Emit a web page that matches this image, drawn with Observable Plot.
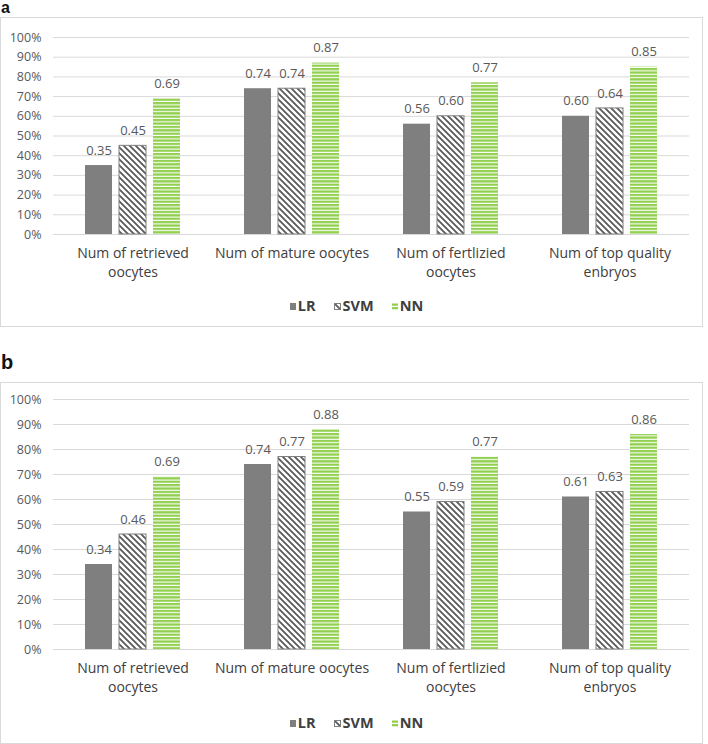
<!DOCTYPE html>
<html>
<head>
<meta charset="utf-8">
<script src="https://cdn.jsdelivr.net/npm/d3@7"></script>
<script src="https://cdn.jsdelivr.net/npm/@observablehq/plot@0.6"></script>
<style>
  html, body { margin: 0; padding: 0; background: #fff; width: 708px; height: 744px; overflow: hidden; }
  body { position: relative; font-family: "Open Sans", sans-serif; }
  .plabel { position: absolute; left: 1px; font-family: "Liberation Sans", Arial, sans-serif; font-weight: bold; color: #111; line-height: 1; }
  .box { position: absolute; left: 0; width: 703px; border: 1.5px solid #d9d9d9; box-sizing: border-box; }
  .chart { position: absolute; left: 0; }
  .legend { position: absolute; left: 4px; width: 705px; display: flex; justify-content: center; gap: 18px;
            font-family: "Open Sans", sans-serif; font-weight: bold; font-size: 14.5px; color: #404040; line-height: 16px; }
  .legend .item { display: flex; align-items: center; gap: 2px; }
  .legend svg { display: block; }
</style>
</head>
<body>
<svg width="0" height="0" style="position:absolute">
  <defs>
    <pattern id="hatch" patternUnits="userSpaceOnUse" width="6" height="6">
      <rect width="6" height="6" fill="#ffffff"/>
      <path d="M-1,-1L7,7M-1,5L1,7M5,-1L7,1" stroke="#595959" stroke-width="1.8"/>
    </pattern>
    <pattern id="stripes" patternUnits="userSpaceOnUse" width="6" height="3.4">
      <rect width="6" height="3.4" fill="#ffffff"/>
      <rect width="6" height="2.3" fill="#92d050"/>
    </pattern>
  </defs>
</svg>

<div class="plabel" style="top:0px;font-size:16px;">a</div>
<div class="box" style="top:17px;height:310px;"></div>
<div class="chart" id="chartA" style="top:17px;"></div>
<div class="legend" id="legendA" style="top:298px;"></div>

<div class="plabel" style="top:352px;font-size:20px;">b</div>
<div class="box" style="top:382px;height:362px;"></div>
<div class="chart" id="chartB" style="top:382px;"></div>
<div class="legend" id="legendB" style="top:715px;"></div>

<script>
// ---- data ----
const categories = [
  "Num of retrieved\noocytes",
  "Num of mature oocytes",
  "Num of fertlizied\noocytes",
  "Num of top quality\nenbryos"
];
const models = ["LR", "SVM", "NN"];
const yTicks = [0, 0.1, 0.2, 0.3, 0.4, 0.5, 0.6, 0.7, 0.8, 0.9, 1.0];

const lrA  = [0.35, 0.74, 0.56, 0.60];
const svmA = [0.45, 0.74, 0.60, 0.64];
const nnA  = [0.69, 0.87, 0.77, 0.85];

const lrB  = [0.34, 0.74, 0.55, 0.61];
const svmB = [0.46, 0.77, 0.59, 0.63];
const nnB  = [0.69, 0.88, 0.77, 0.86];

const fills = {LR: "#7f7f7f", SVM: "url(#hatch)", NN: "url(#stripes)"};
const strokes = {LR: "none", SVM: "#7f7f7f", NN: "none"};

function rows(lr, svm, nn) {
  return categories.flatMap((c, i) => [
    {cat: c, model: "LR", value: lr[i]},
    {cat: c, model: "SVM", value: svm[i]},
    {cat: c, model: "NN", value: nn[i]}
  ]);
}

function makeChart(data, plotHeight, marginTop) {
  const marginBottom = 50;
  return Plot.plot({
    width: 704,
    height: marginTop + plotHeight + marginBottom,
    marginLeft: 52,
    marginRight: 14,
    marginTop: marginTop,
    marginBottom: marginBottom,
    style: {fontFamily: "'Open Sans', sans-serif", background: "transparent", overflow: "visible"},
    fx: {domain: categories, padding: 0, label: null},
    x: {domain: models, paddingInner: 0.2, paddingOuter: 0.88, axis: null},
    y: {domain: [0, 1], axis: null},
    marks: [
      Plot.gridY(yTicks, {stroke: "#d9d9d9", strokeOpacity: 1, strokeWidth: 1}),
      Plot.axisY(yTicks, {
        tickSize: 0, tickPadding: 12, fontSize: 12.5, fill: "#595959",
        tickFormat: d => Math.round(d * 100) + "%", label: null
      }),
      ...models.map(m => Plot.barY(data.filter(d => d.model === m), {
        fx: "cat", x: "model", y: "value",
        fill: fills[m], stroke: strokes[m], strokeWidth: 1
      })),
      Plot.text(data, {
        fx: "cat", x: "model", y: "value", dy: -15,
        text: d => d.value.toFixed(2), fill: "#595959", fontSize: 13
      }),
      Plot.axisFx({
        anchor: "bottom", tickSize: 0, tickPadding: 10, fontSize: 14,
        lineHeight: 1.36, fill: "#404040", label: null
      })
    ]
  });
}

function makeLegend(el) {
  const sw = {
    LR: `<svg width="6" height="7"><rect width="6" height="7" fill="#7f7f7f"/></svg>`,
    SVM: `<svg width="7" height="7"><rect x="0.5" y="0.5" width="6" height="6" fill="url(#hatch)" stroke="#7f7f7f" stroke-width="1"/></svg>`,
    NN: `<svg width="6" height="7"><rect y="0.5" width="6" height="2.3" fill="#92d050"/><rect y="4" width="6" height="2.3" fill="#92d050"/></svg>`
  };
  el.innerHTML = models.map(m => `<div class="item">${sw[m]}<span>${m}</span></div>`).join("");
}

document.getElementById("chartA").append(makeChart(rows(lrA, svmA, nnA), 197, 20));
document.getElementById("chartB").append(makeChart(rows(lrB, svmB, nnB), 250, 17));
makeLegend(document.getElementById("legendA"));
makeLegend(document.getElementById("legendB"));
</script>
</body>
</html>
